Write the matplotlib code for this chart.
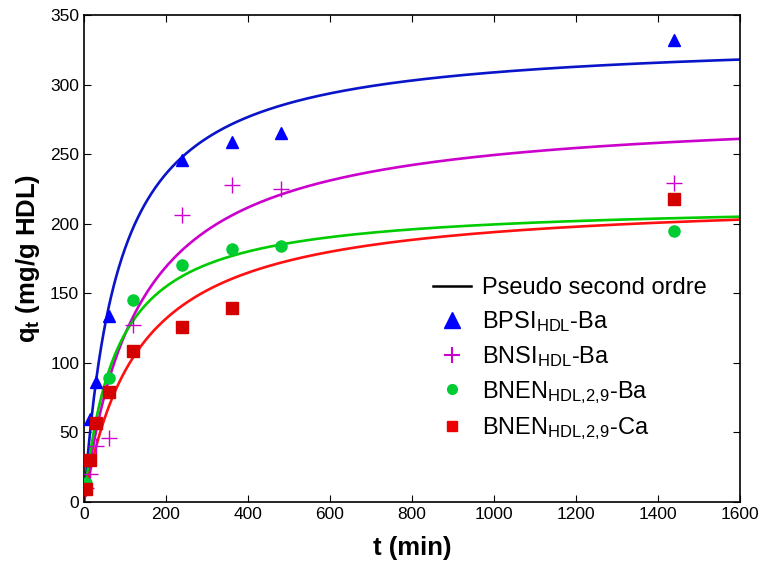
import numpy as np
import matplotlib.pyplot as plt
from matplotlib.lines import Line2D

plt.rcParams['font.family'] = ['Liberation Sans', 'DejaVu Sans']
plt.rcParams['mathtext.fontset'] = 'custom'
plt.rcParams['mathtext.rm'] = 'Liberation Sans'
plt.rcParams['mathtext.it'] = 'Liberation Sans:italic'
plt.rcParams['mathtext.bf'] = 'Liberation Sans:bold'

# experimental points
t_bpsi = [5, 15, 30, 60, 240, 360, 480, 1440]
q_bpsi = [30, 60, 86, 134, 246, 259, 265, 332]

t_bnsi = [5, 15, 30, 60, 120, 240, 360, 480, 1440]
q_bnsi = [10, 20, 40, 46, 127, 206, 228, 225, 229]

t_bnen_ba = [5, 60, 120, 240, 360, 480, 1440]
q_bnen_ba = [14, 89, 145, 170, 182, 184, 195]

t_bnen_ca = [5, 15, 30, 60, 120, 240, 360, 1440]
q_bnen_ca = [9, 30, 57, 79, 108.5, 126, 139.5, 218]

# pseudo second order parameters (qe, k2)
qe = [334.6, 283.0, 215.0, 219.9]
k2 = [3.57e-5, 2.62e-5, 5.98e-5, 3.40e-5]
curve_colors = ['#0a14c8', '#cc00cc', '#00cc00', '#ff1010']

fig = plt.figure(figsize=(7.58, 5.65), dpi=100)
ax = fig.add_axes([0.1108, 0.1115, 0.8655, 0.862])

tt = np.linspace(0, 1600, 800)
for q, k, c in zip(qe, k2, curve_colors):
    ax.plot(tt, q * q * k * tt / (1 + q * k * tt), color=c, lw=1.9, zorder=2)

ax.plot(t_bpsi, q_bpsi, '^', color='#0000ff', ms=9, ls='none', zorder=3)
ax.plot(t_bnsi, q_bnsi, '+', color='#cc00cc', ms=12, mew=1.0, ls='none', zorder=3)
ax.plot(t_bnen_ba, q_bnen_ba, 'o', color='#00cc33', ms=8, ls='none', zorder=3)
ax.plot(t_bnen_ca, q_bnen_ca, 's', color='#d40000', ms=8, ls='none', zorder=3)

ax.set_xlim(0, 1600)
ax.set_ylim(0, 350)
ax.set_xticks(range(0, 1601, 200))
ax.set_yticks(range(0, 351, 50))
ax.tick_params(direction='in', top=True, right=True, length=5, labelsize=12.5)
for s in ax.spines.values():
    s.set_linewidth(1.2)

ax.set_xlabel('t (min)', fontsize=18.5, fontweight='bold', labelpad=10)
ax.set_ylabel(r'q$_{\mathbf{t}}$ (mg/g HDL)', fontsize=18.5, fontweight='bold', labelpad=6)

handles = [
    Line2D([], [], color='black', lw=1.8),
    Line2D([], [], marker='^', color='#0000ff', ms=11, ls='none'),
    Line2D([], [], marker='+', color='#cc00cc', ms=12, mew=1.5, ls='none'),
    Line2D([], [], marker='o', color='#00cc33', ms=7, ls='none'),
    Line2D([], [], marker='s', color='#ee0000', ms=7, ls='none'),
]
labels = [
    'Pseudo second ordre',
    r'BPSI$_{\mathrm{HDL}}$-Ba',
    r'BNSI$_{\mathrm{HDL}}$-Ba',
    r'BNEN$_{\mathrm{HDL{,}2{,}9}}$-Ba',
    r'BNEN$_{\mathrm{HDL{,}2{,}9}}$-Ca',
]
ax.legend(handles, labels, loc='upper left', bbox_to_anchor=(0.5, 0.505),
          frameon=False, fontsize=17, handlelength=1.6, labelspacing=0.42,
          handletextpad=0.45)

fig.savefig('out.png', dpi=100)
